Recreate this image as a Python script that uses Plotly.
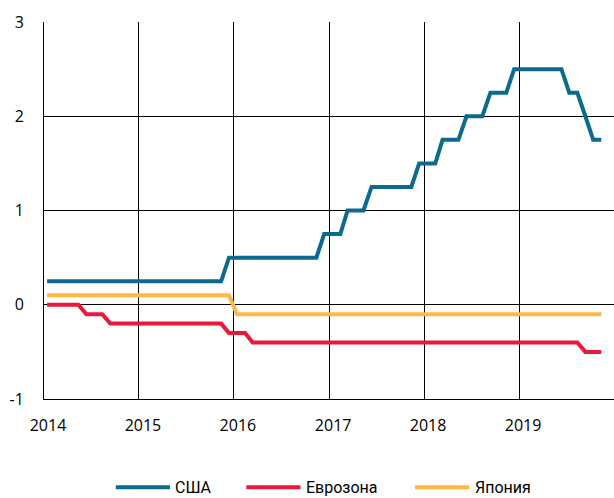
import pandas as pd
import plotly.graph_objects as go

months = pd.date_range("2014-01-01", "2019-11-01", freq="MS") + pd.Timedelta(days=12)

usa = [0.25] * 12 \
    + [0.25] * 11 + [0.5] \
    + [0.5] * 11 + [0.75] \
    + [0.75, 0.75, 1.0, 1.0, 1.0, 1.25, 1.25, 1.25, 1.25, 1.25, 1.25, 1.5] \
    + [1.5, 1.5, 1.75, 1.75, 1.75, 2.0, 2.0, 2.0, 2.25, 2.25, 2.25, 2.5] \
    + [2.5, 2.5, 2.5, 2.5, 2.5, 2.5, 2.25, 2.25, 2.0, 1.75, 1.75]

euro = [0, 0, 0, 0, 0, -0.1, -0.1, -0.1, -0.2, -0.2, -0.2, -0.2] \
    + [-0.2] * 11 + [-0.3] \
    + [-0.3, -0.3] + [-0.4] * 10 \
    + [-0.4] * 12 \
    + [-0.4] * 12 \
    + [-0.4] * 8 + [-0.5, -0.5, -0.5]

japan = [0.1] * 12 \
    + [0.1] * 12 \
    + [-0.1] * 12 \
    + [-0.1] * 12 \
    + [-0.1] * 12 \
    + [-0.1] * 11

y_ticks = [-1, 0, 1, 2, 3]
y_labels = ["-1", "0", "1", "2", "3"]

series = [
    ("США", usa, "#0b6a8d"),
    ("Еврозона", euro, "#ea1739"),
    ("Япония", japan, "#fdb845"),
]
# legend positions (paper x of line start)
legend_x = [0.126, 0.355, 0.651]

fig = go.Figure()
for (name, vals, color), lx in zip(series, legend_x):
    fig.add_trace(go.Scatter(
        x=months, y=vals, name=name, mode="lines",
        line=dict(color=color, width=4),
        showlegend=False,
    ))
    fig.add_shape(type="line", xref="paper", yref="paper",
                  x0=lx, x1=lx + 0.095, y0=-0.234, y1=-0.234,
                  line=dict(color=color, width=4))
    fig.add_annotation(text=name, xref="paper", yref="paper",
                       x=lx + 0.101, y=-0.234, xanchor="left", yanchor="middle",
                       showarrow=False, font=dict(family="Roboto", size=16))

fig.update_layout(
    width=614, height=498,
    margin=dict(l=44, r=0, t=22, b=99),
    plot_bgcolor="white", paper_bgcolor="white",
    font=dict(family="Open Sans", size=16, color="black"),
)
fig.update_xaxes(
    type="date", range=["2014-01-01", "2020-01-01"],
    dtick="M12", tick0="2014-01-01", tickformat="%Y",
    showgrid=True, gridcolor="black", gridwidth=1,
    showline=True, linecolor="black", linewidth=1,
    ticks="outside", ticklen=12, tickcolor="white",
    ticklabelshift=4,
    zeroline=False, automargin=False,
)
fig.update_yaxes(
    range=[-1, 3], tickvals=y_ticks, ticktext=y_labels,
    showgrid=True, gridcolor="black", gridwidth=1,
    showline=True, linecolor="black", linewidth=1,
    ticks="outside", ticklen=16, tickcolor="white",
    zeroline=False, automargin=False,
)

fig.write_html("out.html", config={"displayModeBar": False},
               post_script="document.body.style.margin='0';")
